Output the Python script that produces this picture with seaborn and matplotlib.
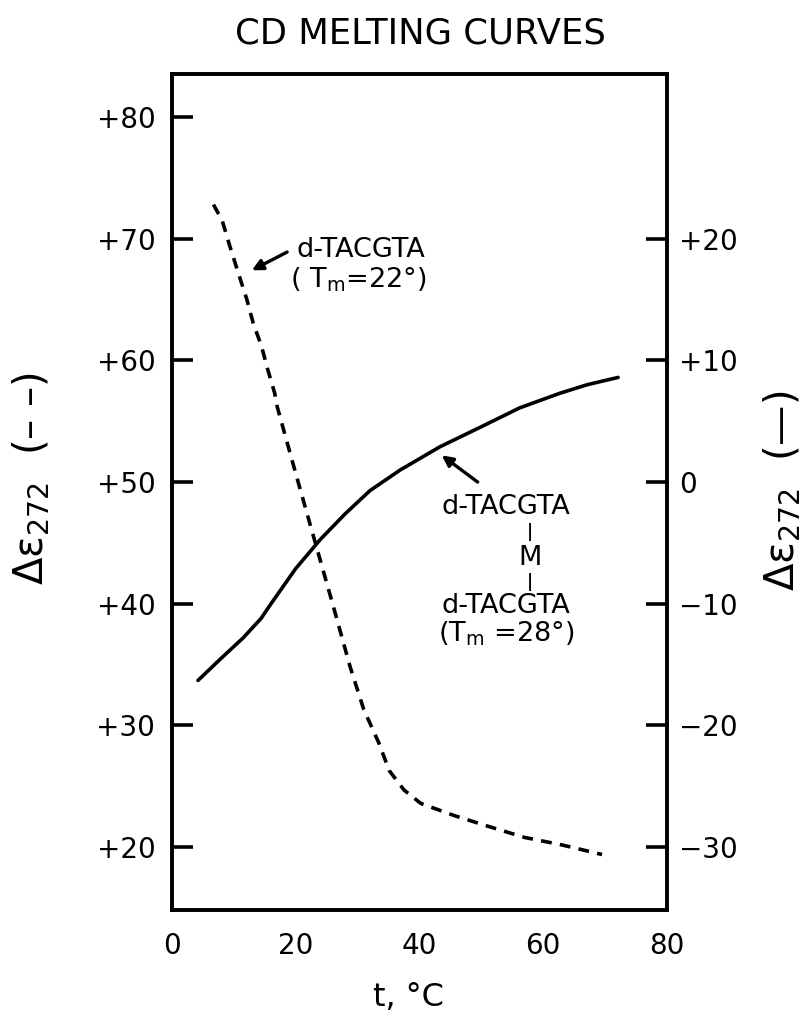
import numpy as np
import pandas as pd
import matplotlib
matplotlib.use("Agg")
import matplotlib.pyplot as plt
import seaborn as sns

# ---- data ----
t_dashed = [6.7, 8.1, 9.4, 10.7, 12.1, 13.1, 14.5, 15.5, 16.6, 17.0, 20.0, 23.0,
            25.9, 28.8, 31.0, 33.4, 35.1, 37.5, 40.2, 45.6, 51.2, 57.0, 62.9, 69.5]
v_dashed = [72.8, 71.5, 69.3, 67.2, 65.0, 63.1, 61.1, 59.2, 57.3, 56.2, 50.7, 45.3,
            40.1, 34.8, 31.3, 28.6, 26.3, 24.7, 23.6, 22.6, 21.7, 20.8, 20.2, 19.4]

t_solid = [4.2, 7.9, 11.5, 14.4, 16.0, 20.0, 24.0, 28.0, 32.0, 36.9, 43.3, 49.8,
           56.2, 62.7, 67.1, 72.1]
v_solid = [-16.3, -14.5, -12.8, -11.2, -10.0, -7.1, -4.7, -2.6, -0.7, 1.0, 2.9, 4.5,
           6.1, 7.3, 8.0, 8.6]

x_ticks = [0, 20, 40, 60, 80]
left_ticks = [20, 30, 40, 50, 60, 70, 80]
left_labels = ["+20", "+30", "+40", "+50", "+60", "+70", "+80"]
right_ticks = [-30, -20, -10, 0, 10, 20]
right_labels = ["\u221230", "\u221220", "\u221210", "0", "+10", "+20"]

sns.set_style("white")
plt.rcParams['font.family'] = ['DejaVu Sans']
plt.rcParams['mathtext.fontset'] = 'dejavusans'
plt.rcParams['text.color'] = 'black'
plt.rcParams['xtick.color'] = 'black'
plt.rcParams['ytick.color'] = 'black'

W, H = 810, 1014
fig = plt.figure(figsize=(W / 100, H / 100), dpi=100)
L, R, T, B = 172, 667, 74, 910
ax = fig.add_axes([L / W, 1 - B / H, (R - L) / W, (B - T) / H])

ylo, yhi = 14.84, 83.53
lw = 2.6

df_d = pd.DataFrame({"t": t_dashed, "v": v_dashed})
df_s = pd.DataFrame({"t": t_solid, "v": v_solid})

sns.lineplot(data=df_d, x="t", y="v", ax=ax, color="black", lw=lw,
             linestyle=(0, (3.0, 2.3)), sort=False)
ax.set_xlim(0, 80)
ax.set_ylim(ylo, yhi)

ax2 = ax.twinx()
sns.lineplot(data=df_s, x="t", y="v", ax=ax2, color="black", lw=lw, sort=False)
ax2.set_ylim(ylo - 50, yhi - 50)

ax.set_xticks(x_ticks)
ax.set_xticklabels([str(v) for v in x_ticks])
ax.set_yticks(left_ticks)
ax.set_yticklabels(left_labels)
ax2.set_yticks(right_ticks)
ax2.set_yticklabels(right_labels)

ax.set_xlabel("")
ax.set_ylabel("")
ax2.set_ylabel("")

for a in (ax, ax2):
    for s in a.spines.values():
        s.set_visible(True)
        s.set_color("black")
        s.set_linewidth(lw)

ax.tick_params(axis="x", direction="in", length=13, width=lw, labelsize=20, pad=16)
ax.tick_params(axis="y", direction="in", length=15, width=lw, labelsize=20, pad=12)
ax2.tick_params(axis="y", direction="in", length=15, width=lw, labelsize=20, pad=9)

# annotations
fs = 19.5
ax.text(20.2, 69.1, "d-TACGTA", fontsize=fs, ha="left", va="center")
ax.text(19.1, 66.6, "( T$_{\\rm m}$=22°)", fontsize=fs, ha="left", va="center")
ax.annotate("", xy=(12.9, 67.4), xytext=(18.6, 68.9),
            arrowprops=dict(arrowstyle="-|>", color="black", lw=2.4,
                            mutation_scale=16, shrinkA=0, shrinkB=0))

ax.text(54.0, 47.95, "d-TACGTA", fontsize=fs, ha="center", va="center")
ax.text(57.8, 45.9, "|", fontsize=12, ha="center", va="center", fontweight="bold")
ax.text(57.8, 43.76, "M", fontsize=fs, ha="center", va="center")
ax.text(57.8, 41.79, "|", fontsize=12, ha="center", va="center", fontweight="bold")
ax.text(54.0, 39.82, "d-TACGTA", fontsize=fs, ha="center", va="center")
ax.text(54.0, 37.5, "(T$_{\\rm m}$ =28°)", fontsize=fs, ha="center", va="center")
ax.annotate("", xy=(43.6, 52.2), xytext=(49.4, 50.0),
            arrowprops=dict(arrowstyle="-|>", color="black", lw=2.4,
                            mutation_scale=16, shrinkA=0, shrinkB=0))

# titles / axis labels
fig.text(420 / W, 1 - 34 / H, "CD MELTING CURVES", fontsize=25.5, ha="center", va="center")
fig.text(408 / W, 1 - 998 / H, "t, °C", fontsize=23, ha="center", va="center")
fig.text(32 / W, 1 - 478 / H, "\u0394\u03b5$_{272}$  (\u2013 \u2013)", fontsize=29,
         rotation=90, ha="center", va="center")
fig.text(783 / W, 1 - 491 / H, "\u0394\u03b5$_{272}$  (\u2014)", fontsize=29,
         rotation=90, ha="center", va="center")

fig.savefig("out.png", dpi=100)
